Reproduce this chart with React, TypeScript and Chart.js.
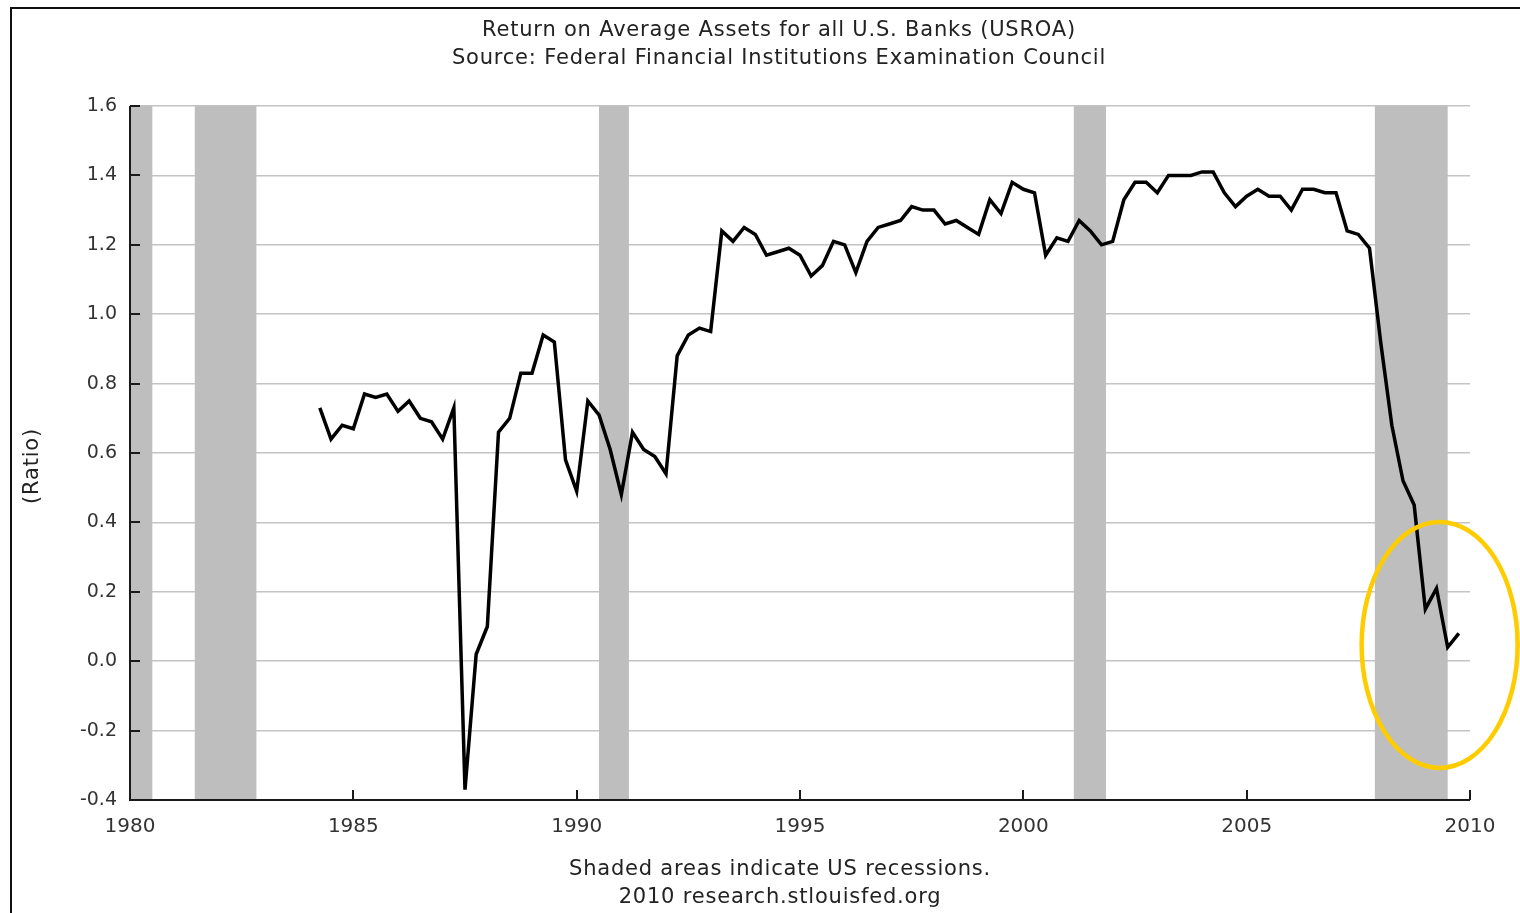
import React, { useEffect, useRef } from "react";
import { Chart, registerables } from "chart.js";

Chart.register(...registerables);

const TITLE_LINES = [
  "Return on Average Assets for all U.S. Banks (USROA)",
  "Source: Federal Financial Institutions Examination Council",
];
const FOOTNOTE_LINES = ["Shaded areas indicate US recessions.", "2010 research.stlouisfed.org"];
const Y_AXIS_TITLE = "(Ratio)";

const FIRST_QUARTER = 1984.25; // 1984 Q2, quarterly observations
const roaValues = [
  0.73, 0.64, 0.68, 0.67, 0.77, 0.76, 0.77, 0.72, 0.75, 0.70, 0.69, 0.64,
  0.73, -0.37, 0.02, 0.10, 0.66, 0.70, 0.83, 0.83, 0.94, 0.92, 0.58, 0.49,
  0.75, 0.71, 0.61, 0.48, 0.66, 0.61, 0.59, 0.54, 0.88, 0.94, 0.96, 0.95,
  1.24, 1.21, 1.25, 1.23, 1.17, 1.18, 1.19, 1.17, 1.11, 1.14, 1.21, 1.20,
  1.12, 1.21, 1.25, 1.26, 1.27, 1.31, 1.30, 1.30, 1.26, 1.27, 1.25, 1.23,
  1.33, 1.29, 1.38, 1.36, 1.35, 1.17, 1.22, 1.21, 1.27, 1.24, 1.20, 1.21,
  1.33, 1.38, 1.38, 1.35, 1.40, 1.40, 1.40, 1.41, 1.41, 1.35, 1.31, 1.34,
  1.36, 1.34, 1.34, 1.30, 1.36, 1.36, 1.35, 1.35, 1.24, 1.23, 1.19, 0.92,
  0.68, 0.52, 0.45, 0.15, 0.21, 0.04, 0.08,
];

const recessionStarts = [1980.0, 1981.45, 1990.5, 2001.13, 2007.87];
const recessionEnds = [1980.5, 1982.83, 1991.17, 2001.85, 2009.5];

const X_MIN = 1980;
const X_MAX = 2010;
const X_STEP = 5;
const Y_MIN = -0.4;
const Y_MAX = 1.6;
const Y_STEP = 0.2;

const FONT = "DejaVu Sans, Verdana, sans-serif";

export default function App() {
  const canvasRef = useRef<HTMLCanvasElement | null>(null);

  useEffect(() => {
    document.body.style.margin = "0";
    const canvas = canvasRef.current;
    if (!canvas) return;

    const points = roaValues.map((v, i) => ({ x: FIRST_QUARTER + i * 0.25, y: v }));

    const fredPlugin = {
      id: "fredDecor",
      beforeDatasetsDraw(chart: any) {
        const { ctx, chartArea, scales } = chart;
        const xs = scales.x;
        const ys = scales.y;
        ctx.save();
        // recession shading
        ctx.fillStyle = "#bebebe";
        for (let i = 0; i < recessionStarts.length; i++) {
          const a = Math.max(xs.getPixelForValue(recessionStarts[i]), chartArea.left);
          const b = Math.min(xs.getPixelForValue(recessionEnds[i]), chartArea.right);
          ctx.fillRect(a, chartArea.top, b - a, chartArea.bottom - chartArea.top);
        }
        // axes
        ctx.strokeStyle = "#1a1a1a";
        ctx.lineWidth = 2;
        ctx.beginPath();
        ctx.moveTo(chartArea.left, chartArea.top);
        ctx.lineTo(chartArea.left, chartArea.bottom);
        ctx.lineTo(chartArea.right, chartArea.bottom);
        ctx.stroke();
        // inward ticks
        ctx.beginPath();
        for (let v = Y_MIN; v <= Y_MAX + 1e-9; v += Y_STEP) {
          const y = Math.round(ys.getPixelForValue(v));
          ctx.moveTo(chartArea.left, y);
          ctx.lineTo(chartArea.left + 10, y);
        }
        for (let v = X_MIN; v <= X_MAX; v += X_STEP) {
          const x = Math.round(xs.getPixelForValue(v));
          ctx.moveTo(x, chartArea.bottom);
          ctx.lineTo(x, chartArea.bottom - 10);
        }
        ctx.stroke();
        ctx.restore();
      },
      afterDraw(chart: any) {
        const { ctx, scales } = chart;
        const xs = scales.x;
        const ys = scales.y;
        ctx.save();
        // highlight ellipse
        ctx.strokeStyle = "#ffcc00";
        ctx.lineWidth = 4.5;
        ctx.beginPath();
        ctx.ellipse(
          xs.getPixelForValue(2009.32),
          ys.getPixelForValue(0.047),
          78,
          123,
          0,
          0,
          Math.PI * 2
        );
        ctx.stroke();
        // texts
        ctx.fillStyle = "#222";
        ctx.font = `21px ${FONT}`;
        (ctx as any).letterSpacing = "0.8px";
        ctx.textAlign = "center";
        ctx.textBaseline = "middle";
        ctx.fillText(TITLE_LINES[0], 779, 31);
        ctx.fillText(TITLE_LINES[1], 779, 59);
        ctx.fillText(FOOTNOTE_LINES[0], 780, 870);
        ctx.fillText(FOOTNOTE_LINES[1], 780, 898);
        ctx.save();
        ctx.translate(33, 466);
        ctx.rotate(-Math.PI / 2);
        ctx.fillText(Y_AXIS_TITLE, 0, 0);
        ctx.restore();
        (ctx as any).letterSpacing = "0px";
        // frame
        ctx.strokeStyle = "#111";
        ctx.lineWidth = 2;
        ctx.beginPath();
        ctx.moveTo(11, 913);
        ctx.lineTo(11, 8);
        ctx.lineTo(1520, 8);
        ctx.stroke();
        ctx.restore();
      },
    };

    const chart = new Chart(canvas, {
      type: "line",
      data: {
        datasets: [
          {
            data: points,
            borderColor: "#000",
            borderWidth: 3.5,
            pointRadius: 0,
            tension: 0,
            fill: false,
          },
        ],
      },
      options: {
        responsive: false,
        animation: false,
        events: [],
        layout: { padding: { top: 106, right: 50, left: 0, bottom: 0 } },
        plugins: { legend: { display: false }, title: { display: false }, tooltip: { enabled: false } },
        scales: {
          x: {
            type: "linear",
            min: X_MIN,
            max: X_MAX,
            afterFit: (s: any) => {
              s.height = 113;
            },
            grid: { display: false, drawTicks: false },
            border: { display: false },
            ticks: {
              stepSize: X_STEP,
              padding: 15,
              color: "#333",
              font: { family: FONT, size: 20 },
              maxRotation: 0,
              callback: (v: any) => String(v),
            },
          },
          y: {
            type: "linear",
            min: Y_MIN,
            max: Y_MAX,
            afterFit: (s: any) => {
              s.width = 130;
            },
            grid: { display: true, drawTicks: false, color: "#c4c4c4", lineWidth: 1.5 },
            border: { display: false },
            ticks: {
              stepSize: Y_STEP,
              padding: 13,
              color: "#333",
              font: { family: FONT, size: 19 },
              callback: (v: any) => Number(v).toFixed(1),
            },
          },
        },
      },
      plugins: [fredPlugin],
    });

    return () => chart.destroy();
  }, []);

  return (
    <div style={{ width: 1520, height: 913, background: "#fff" }}>
      <canvas ref={canvasRef} width={1520} height={913} style={{ display: "block" }} />
    </div>
  );
}
